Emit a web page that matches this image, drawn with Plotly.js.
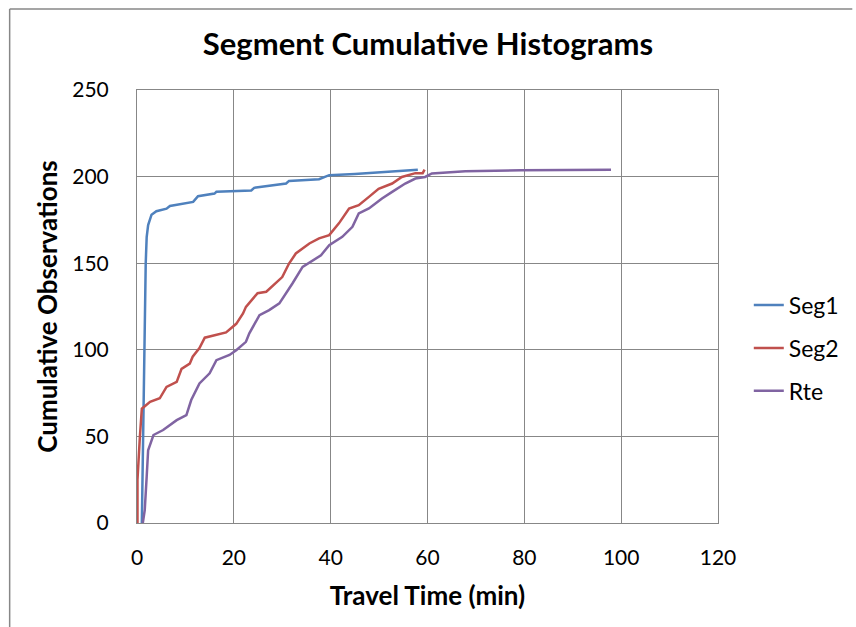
<!DOCTYPE html>
<html>
<head>
<meta charset="utf-8">
<script src="https://cdn.plot.ly/plotly-3.0.1.min.js"></script>
<style>
html,body{margin:0;padding:0;background:#fff;}
#chart{width:856px;height:627px;}
</style>
</head>
<body>
<div id="chart"></div>
<script>
const seg1X = [1.0, 1.2, 1.4, 1.6, 1.8, 2.0, 2.3, 3.0, 4.0, 6.1, 6.8, 11.6, 12.6, 16.0, 16.4, 23.6, 24.2, 30.8, 31.4, 37.6, 39.7, 45, 50, 58.0];
const seg1Y = [0, 40, 80, 120, 150, 165, 172, 178, 180, 181.5, 183, 185.4, 188.7, 190.2, 191.2, 192, 193.5, 196, 197.5, 198.5, 200.8, 201.5, 202.3, 204];

const seg2X = [0.1, 0.1, 0.6, 1.0, 2.7, 4.7, 6.1, 8.2, 9.2, 10.9, 11.5, 12.9, 14.0, 16.4, 18.4, 20.5, 21.9, 22.5, 24.9, 26.7, 28.7, 30.0, 31.4, 32.8, 35.6, 37.6, 39.7, 41.7, 43.8, 45.8, 47.9, 49.9, 52.7, 54.7, 57.5, 59.0, 59.4];
const seg2Y = [0, 25, 50, 66, 70, 72, 78.6, 81.5, 89, 92, 96, 101, 107, 108.5, 110, 115, 121, 124.8, 132.7, 133.5, 138.5, 142, 149.8, 155.6, 161.4, 164.3, 166.2, 173, 181.6, 183.5, 188.3, 193, 196, 199.8, 202, 202, 204];

const rteX = [1.2, 1.6, 2.0, 2.3, 3.4, 5.4, 8.2, 10.2, 11.2, 12.9, 15.0, 16.4, 19.1, 20.5, 22.5, 23.2, 25.3, 27.3, 29.4, 30.8, 32.1, 34.2, 35.9, 38.0, 39.7, 42.4, 44.5, 45.8, 47.9, 50.6, 52.7, 55.4, 57.5, 59.5, 60.9, 67.8, 79.4, 97.9];
const rteY = [0, 7.5, 26.7, 42, 50.8, 53.7, 59.4, 62.3, 71, 80.6, 86.4, 94, 97, 99.8, 104.6, 109.5, 120, 122.9, 126.8, 132.5, 138.3, 147.9, 150.8, 154.6, 160.4, 165.2, 171, 178.7, 181.6, 187.4, 191.2, 196, 198.9, 199.8, 201.8, 203.1, 203.7, 204];

const seriesNames = ["Seg1", "Seg2", "Rte"];
const xTicks = [0, 20, 40, 60, 80, 100, 120];
const yTicks = [0, 50, 100, 150, 200, 250];

const colors = ["#4F81BD", "#C0504D", "#8064A2"];
const xs = [seg1X, seg2X, rteX];
const ys = [seg1Y, seg2Y, rteY];

const traces = seriesNames.map((n, i) => ({
  x: xs[i], y: ys[i], name: n, type: "scatter", mode: "lines",
  line: {color: colors[i], width: 2.5},
  legendgroup: "g" + i
}));

const font = "Lato, 'Open Sans', sans-serif";
const layout = {
  width: 856, height: 627,
  margin: {l: 137, r: 135, t: 90, b: 104},
  paper_bgcolor: "#fff", plot_bgcolor: "#fff",
  font: {family: font, color: "#000", size: 21},
  title: {text: "<b>Segment Cumulative Histograms</b>", font: {size: 31, family: font, color: "#000"}, x: 0.5, xanchor: "center", y: 0.93, yanchor: "middle", yref: "container"},
  xaxis: {
    range: [0, 120], tickvals: xTicks, ticktext: xTicks.map(String),
    showgrid: true, gridcolor: "#878787", gridwidth: 1,
    showline: true, linecolor: "#878787", linewidth: 1, mirror: true,
    zeroline: false, ticks: "", ticklabelstandoff: 16,
    tickfont: {size: 21},
    title: {text: "<b>Travel Time (min)</b>", font: {size: 26}, standoff: 18}
  },
  yaxis: {
    range: [0, 250], tickvals: yTicks, ticktext: yTicks.map(String),
    showgrid: true, gridcolor: "#878787", gridwidth: 1,
    showline: true, linecolor: "#878787", linewidth: 1, mirror: true,
    zeroline: false, ticks: "", ticklabelstandoff: 23,
    tickfont: {size: 21},
    title: {text: "<b>Cumulative Observations</b>", font: {size: 26}, standoff: 7}
  },
  legend: {
    x: 1.053, xanchor: "left", y: 0.553, yanchor: "top",
    font: {size: 23}, traceorder: "grouped", tracegroupgap: 10,
    bgcolor: "rgba(0,0,0,0)"
  },
  shapes: [
    {type: "line", xref: "paper", yref: "paper", x0: (9-137)/584, x1: (856-137)/584, y0: (523-9)/433, y1: (523-9)/433, line: {color: "#878787", width: 1.5}},
    {type: "line", xref: "paper", yref: "paper", x0: (9-137)/584, x1: (9-137)/584, y0: (523-9)/433, y1: (523-627)/433, line: {color: "#878787", width: 1.5}}
  ]
};

Plotly.newPlot("chart", traces, layout, {displayModeBar: false, staticPlot: true});
</script>
</body>
</html>
